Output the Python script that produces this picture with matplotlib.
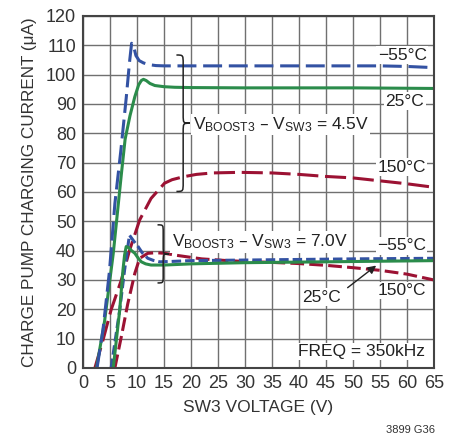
import numpy as np
import matplotlib
matplotlib.use('Agg')
import matplotlib.pyplot as plt
from matplotlib.path import Path
from matplotlib.patches import PathPatch

plt.rcParams['font.family'] = ['Liberation Sans', 'DejaVu Sans']
plt.rcParams['mathtext.default'] = 'regular'

# VBOOST3 - VSW3 = 4.5V
blue45_x = [2.6, 3.7, 4.9, 5.9, 7.0, 8.0, 8.6, 9.0, 9.4, 9.8, 10.4, 11.2, 12.3, 13.5, 15, 20, 30, 40, 50, 55, 60, 65]
blue45_y = [0, 13, 33, 56, 74, 92, 104, 110.7, 109.5, 106.5, 104.8, 104.0, 103.4, 103.1, 103, 103, 103, 103, 103, 103, 102.8, 102.4]
green45_x = [2.5, 4.0, 5.6, 7.1, 7.8, 8.7, 9.6, 10.3, 10.8, 11.2, 11.7, 12.4, 13.3, 15, 17, 20, 30, 40, 50, 65]
green45_y = [0, 16, 39, 66, 78, 86, 92.5, 96.5, 98, 98.4, 98, 97, 96.3, 95.9, 95.7, 95.6, 95.5, 95.5, 95.5, 95.3]
red45_x = [2.2, 3.7, 5.2, 7.1, 8.6, 10.5, 12.6, 15.1, 16.5, 18.6, 21, 24, 29, 35, 40, 45, 50, 55, 60, 65]
red45_y = [0, 9.5, 19.8, 30, 40, 50.5, 57.8, 63, 64.2, 65.2, 66, 66.5, 66.7, 66.5, 66, 65.3, 64.8, 63.8, 62.8, 61.6]

# VBOOST3 - VSW3 = 7.0V
blue7_x = [5.2, 6.8, 7.7, 8.6, 9.3, 10.2, 11.0, 12.0, 13.0, 14.2, 16, 20, 30, 40, 50, 65]
blue7_y = [0, 19.8, 33.4, 45.3, 43.5, 41.4, 39.2, 37.4, 36.7, 36.2, 36.3, 36.6, 36.8, 37, 37.2, 37.4]
green7_x = [5.6, 6.8, 7.4, 7.7, 8.0, 8.5, 9.0, 9.6, 10.2, 10.8, 11.6, 12.6, 15.1, 20, 30, 40, 50, 65]
green7_y = [0, 19.8, 33.4, 38.5, 41.4, 41.0, 40.0, 39.1, 37.5, 36.2, 35.5, 35.1, 35.1, 35.5, 35.9, 36.1, 36.3, 36.6]
red7_x = [5.9, 7.1, 8.3, 9.6, 10.5, 12.0, 13.5, 15.1, 17, 18.9, 22, 26, 30, 35, 40, 45, 50, 55, 60, 65]
red7_y = [0, 10.7, 22, 32.3, 37.4, 39.1, 39.3, 39.1, 38.5, 38, 37.2, 36.7, 36.3, 36, 35.6, 35, 34.2, 33.3, 32, 30]

xticks = list(range(0, 70, 5))
yticks = list(range(0, 130, 10))

blue = '#3352a3'
green = '#2b8c4b'
red = '#9c1233'
tc = '#222222'


def brace(ax, x0, y0, y1, w, q):
    # "}" from y0 to y1, back at x0, tip at x0+w
    ym = (y0 + y1) / 2
    xm = x0 + w / 2
    verts = [(x0, y1), (xm, y1), (xm, y1), (xm, y1 - q),
             (xm, ym + q), (xm, ym), (xm, ym), (x0 + w, ym),
             (x0 + w, ym), (xm, ym), (xm, ym), (xm, ym - q),
             (xm, y0 + q), (xm, y0), (xm, y0), (x0, y0)]
    c4 = Path.CURVE4
    codes = [Path.MOVETO, c4, c4, c4,
             Path.LINETO, c4, c4, c4,
             Path.MOVETO, c4, c4, c4,
             Path.LINETO, c4, c4, c4]
    ax.add_patch(PathPatch(Path(verts, codes), fill=False, edgecolor=tc, lw=1.1, zorder=5))


fig = plt.figure(figsize=(4.68, 4.34), dpi=100)
ax = fig.add_axes([83/468, 1-368/434, 351/468, 352/434])

lw = 2.2
ax.plot(red45_x, red45_y, color=red, lw=lw, dashes=(6.9, 2.2))
ax.plot(green45_x, green45_y, color=green, lw=lw)
ax.plot(blue45_x, blue45_y, color=blue, lw=lw, dashes=(6.2, 2.2))
ax.plot(red7_x, red7_y, color=red, lw=lw, dashes=(4.5, 1.7))
ax.plot(blue7_x, blue7_y, color=blue, lw=lw, dashes=(3.1, 1.3))
ax.plot(green7_x, green7_y, color=green, lw=lw)

ax.set_xlim(0, 65)
ax.set_ylim(0, 120)
ax.set_xticks(xticks)
ax.set_yticks(yticks)
ax.tick_params(length=0, labelsize=13, colors='#333333', pad=5)
ax.grid(True, color='#707070', lw=1.0)
ax.set_axisbelow(True)
for s in ax.spines.values():
    s.set_color('#444444')
    s.set_linewidth(1.5)

ax.set_xlabel('SW3 VOLTAGE (V)', fontsize=12.5, color='#333333', labelpad=6)
ax.set_ylabel('CHARGE PUMP CHARGING CURRENT (μA)', fontsize=12.3, color='#333333', labelpad=6)

box = dict(facecolor='white', edgecolor='none', pad=1.0)
fs = 12.5
ax.text(59.1, 106.6, '−55°C', ha='center', va='center', fontsize=fs, color=tc, bbox=box)
ax.text(59.6, 91, '25°C', ha='center', va='center', fontsize=fs, color=tc, bbox=box)
ax.text(59.0, 68.5, '150°C', ha='center', va='center', fontsize=fs, color=tc, bbox=box)
ax.text(59.0, 41.6, '−55°C', ha='center', va='center', fontsize=fs, color=tc, bbox=box)
ax.text(59.0, 26.4, '150°C', ha='center', va='center', fontsize=fs, color=tc, bbox=box)
ax.text(44.2, 24.2, '25°C', ha='center', va='center', fontsize=fs, color=tc, bbox=box)
ax.annotate('', xy=(54.7, 35.5), xytext=(48.6, 26.8),
            arrowprops=dict(arrowstyle='-|>', color=tc, lw=1.0, mutation_scale=12))
ax.text(63.3, 5.6, 'FREQ = 350kHz', ha='right', va='center', fontsize=fs, color=tc, bbox=box)

ax.text(20.3, 83, r'V$_{BOOST3}$ – V$_{SW3}$ = 4.5V', ha='left', va='center', fontsize=fs, color=tc, bbox=box)
ax.text(16.4, 43, r'V$_{BOOST3}$ – V$_{SW3}$ = 7.0V', ha='left', va='center', fontsize=fs, color=tc, bbox=box)
brace(ax, 17.3, 60.2, 106.7, 2.5, 3.0)
brace(ax, 13.8, 29.0, 48.8, 2.1, 2.5)

fig.text(435/468, 1-430/434, '3899 G36', ha='right', va='center', fontsize=8, color='#333333')

fig.savefig('out.png', dpi=100)
